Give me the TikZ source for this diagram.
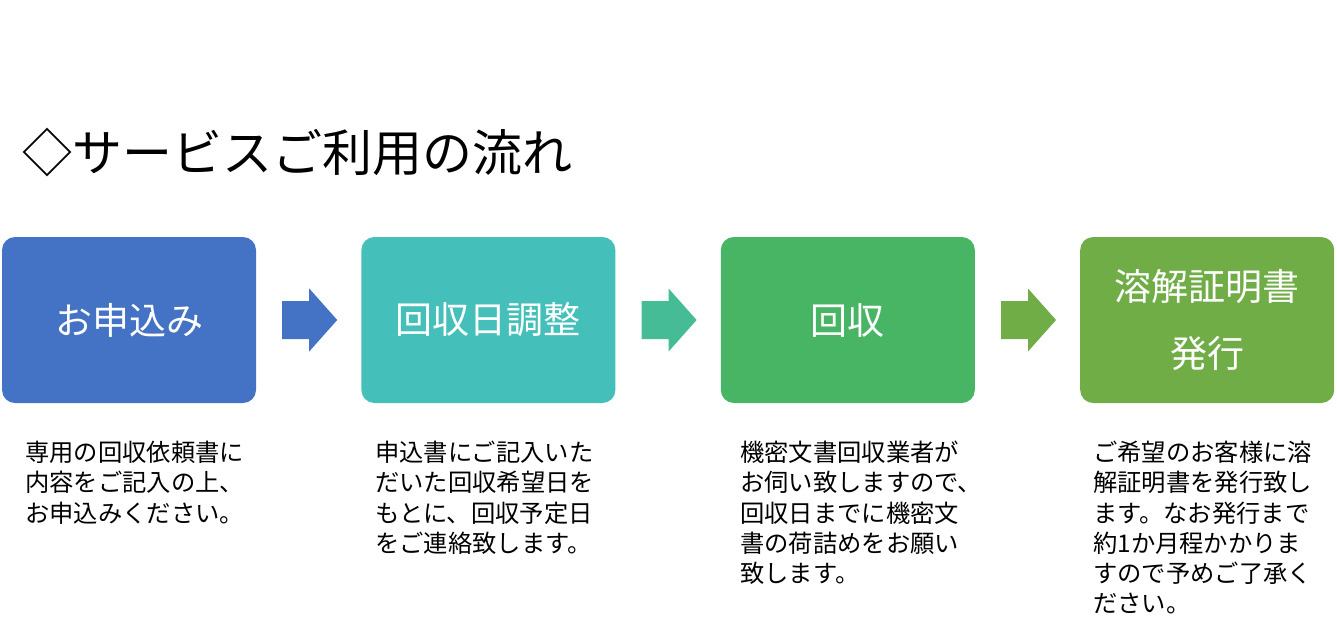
\documentclass[tikz,border=0pt]{standalone}
\usepackage{fontspec}
\setmainfont{Noto Sans CJK JP}
\usepackage{xcolor}
\definecolor{cApply}{HTML}{4472C4}
\definecolor{cDate}{HTML}{45BFBA}
\definecolor{cPick}{HTML}{47B564}
\definecolor{cCert}{HTML}{70AD47}
\definecolor{cArrTwo}{HTML}{45BC96}
\usetikzlibrary{positioning,calc}
\newcommand{\flowarrow}[3]{%
  \fill[#3] ($(#1.east)!0.5!(#2.west)+(-26.5,-19)$) -- ++(27,0) -- ++(0,-12.5)
    -- ++(28,31.5) -- ++(-28,31.5) -- ++(0,-12.5) -- ++(-27,0) -- cycle;}

\begin{document}
\begin{tikzpicture}[x=1pt,y=-1pt,
  step box/.style={rounded corners=13pt,minimum width=254pt,minimum height=166pt,
    inner sep=0pt,text=white,font=\fontsize{37}{67}\selectfont,align=center},
  note/.style={anchor=north west,align=left,inner sep=0pt,
    font=\fontsize{24.3}{30.2}\selectfont},
  node distance=105pt]
\useasboundingbox (0,0) rectangle (1337,641);
\node[anchor=west,inner sep=0pt,font=\fontsize{50}{60}\selectfont] (title)
  at (22,152) {◇サービスご利用の流れ};
\node[step box,fill=cApply] (apply) at (129,320) {お申込み};
\node[step box,fill=cDate,right=of apply] (date) {回収日調整};
\node[step box,fill=cPick,right=of date] (pickup) {回収};
\node[step box,fill=cCert,right=of pickup] (cert) {溶解証明書\\発行};
\flowarrow{apply}{date}{cApply}
\flowarrow{date}{pickup}{cArrTwo}
\flowarrow{pickup}{cert}{cCert}
\node[note] (n1) at (25,441) {専用の回収依頼書に\\内容をご記入の上、\\お申込みください。};
\node[note] (n2) at (375,441) {申込書にご記入いた\\だいた回収希望日を\\もとに、回収予定日\\をご連絡致します。};
\node[note] (n3) at (740,441) {機密文書回収業者が\\お伺い致しますので、\\回収日までに機密文\\書の荷詰めをお願い\\致します。};
\node[note] (n4) at (1093,441) {ご希望のお客様に溶\\解証明書を発行致し\\ます。なお発行まで\\約1か月程かかりま\\すので予めご了承く\\ださい。};
\end{tikzpicture}
\end{document}
